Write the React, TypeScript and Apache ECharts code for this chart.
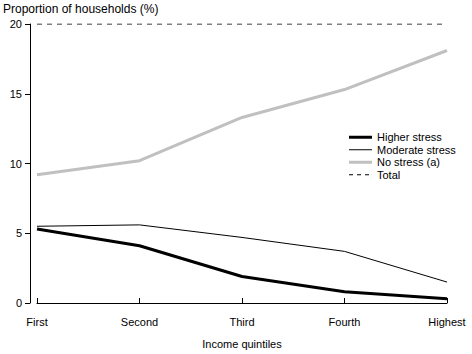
import React, { useEffect, useRef } from "react";
import * as echarts from "echarts";

const categories = ["First", "Second", "Third", "Fourth", "Highest"];
const higherStress = [5.3, 4.1, 1.9, 0.8, 0.3];
const moderateStress = [5.5, 5.6, 4.7, 3.7, 1.5];
const noStress = [9.2, 10.2, 13.3, 15.3, 18.1];
const total = [20, 20, 20, 20, 20];
const yTicks = [0, 5, 10, 15, 20];

const FONT = "'Liberation Sans', Arial, sans-serif";

const iconThick = "path://M0 0H23V3H0Z";
const iconThin = "path://M0 0H23V1H0Z";
const iconDash = "path://M0 0H4V1H0Z M8 0H12V1H8Z M16 0H20V1H16Z M22.9 0H23V1H22.9Z";

export default function App() {
  const ref = useRef<HTMLDivElement>(null);
  useEffect(() => {
    if (!ref.current) return;
    const chart = echarts.init(ref.current, undefined, { renderer: "svg" });
    chart.setOption({
      animation: false,
      textStyle: { fontFamily: FONT, color: "#000" },
      grid: { left: 37, right: 25, top: 24, bottom: 51, containLabel: false },
      graphic: [
        {
          type: "text",
          left: 3,
          top: 3,
          style: { text: "Proportion of households (%)", font: `12px ${FONT}`, fill: "#000" },
        },
      ],
      legend: {
        orient: "vertical",
        left: 344,
        top: 126,
        itemWidth: 23,
        itemHeight: 8,
        itemGap: 0,
        itemStyle: { borderWidth: 0 },
        textStyle: { fontFamily: FONT, fontSize: 11, color: "#000", lineHeight: 12.5 },
        data: [
          { name: "Higher stress", icon: iconThick, itemStyle: { color: "#000" } },
          { name: "Moderate stress", icon: iconThin, itemStyle: { color: "#000" } },
          { name: "No stress (a)", icon: iconThick, itemStyle: { color: "#c0c0c0" } },
          { name: "Total", icon: iconDash, itemStyle: { color: "#000" } },
        ],
      },
      xAxis: {
        type: "category",
        data: categories,
        boundaryGap: false,
        offset: 8,
        name: "Income quintiles",
        nameLocation: "middle",
        nameGap: 27,
        nameTextStyle: { fontFamily: FONT, fontSize: 11, color: "#000" },
        axisLine: { lineStyle: { color: "#000", width: 1 } },
        axisTick: { inside: true, length: 5, lineStyle: { color: "#000" }, alignWithLabel: true },
        axisLabel: { fontFamily: FONT, fontSize: 11, color: "#000", margin: 5 },
        splitLine: { show: false },
      },
      yAxis: {
        type: "value",
        min: yTicks[0],
        max: yTicks[yTicks.length - 1],
        interval: 5,
        offset: 7,
        axisLine: { show: true, lineStyle: { color: "#000", width: 1 } },
        axisTick: { show: true, length: 5, lineStyle: { color: "#000" } },
        axisLabel: { fontFamily: FONT, fontSize: 11, color: "#000", margin: 8 },
        splitLine: { show: false },
      },
      series: [
        {
          name: "Higher stress",
          type: "line",
          data: higherStress,
          symbol: "none",
          lineStyle: { color: "#000", width: 3 },
          itemStyle: { color: "#000" },
          z: 4,
        },
        {
          name: "Moderate stress",
          type: "line",
          data: moderateStress,
          symbol: "none",
          lineStyle: { color: "#000", width: 1 },
          itemStyle: { color: "#000" },
          z: 3,
        },
        {
          name: "No stress (a)",
          type: "line",
          data: noStress,
          symbol: "none",
          lineStyle: { color: "#c0c0c0", width: 3 },
          itemStyle: { color: "#c0c0c0" },
          z: 2,
        },
        {
          name: "Total",
          type: "line",
          data: total,
          symbol: "none",
          lineStyle: { color: "#000", width: 1, type: [5, 5] },
          itemStyle: { color: "#000" },
          z: 1,
        },
      ],
    });
    return () => chart.dispose();
  }, []);
  return <div ref={ref} style={{ width: 472, height: 354, position: "absolute", left: 0, top: 0 }} />;
}
